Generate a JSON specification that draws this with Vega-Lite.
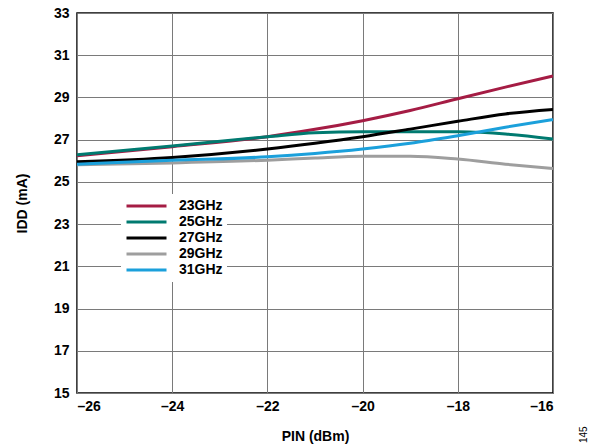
{
  "$schema": "https://vega.github.io/schema/vega-lite/v6.json",
  "width": 476,
  "height": 380,
  "autosize": "none",
  "padding": {"left": 77, "top": 13, "right": 49, "bottom": 55},
  "background": "white",
  "config": {
    "font": "Liberation Sans",
    "view": {"stroke": "black", "strokeWidth": 1.5},
    "axis": {
      "grid": true,
      "gridColor": "#7a7a7a",
      "gridWidth": 1,
      "gridOpacity": 1,
      "domain": false,
      "ticks": false,
      "labelFont": "Liberation Sans",
      "labelFontWeight": "bold",
      "labelFontSize": 14,
      "labelColor": "black",
      "titleFont": "Liberation Sans",
      "titleFontWeight": "bold",
      "titleFontSize": 14,
      "titleColor": "black"
    }
  },
  "title": {
    "text": "145",
    "orient": "right",
    "anchor": "end",
    "angle": 270,
    "align": "left",
    "fontSize": 10,
    "fontWeight": "normal",
    "font": "Liberation Sans",
    "color": "black",
    "offset": 16
  },
  "data": {
    "values": [
      {"p": -26, "i": 26.24, "f": "23GHz"},
      {"p": -24, "i": 26.67, "f": "23GHz"},
      {"p": -22, "i": 27.14, "f": "23GHz"},
      {"p": -21, "i": 27.49, "f": "23GHz"},
      {"p": -20, "i": 27.9, "f": "23GHz"},
      {"p": -19, "i": 28.38, "f": "23GHz"},
      {"p": -18, "i": 28.94, "f": "23GHz"},
      {"p": -17, "i": 29.49, "f": "23GHz"},
      {"p": -16, "i": 30.02, "f": "23GHz"},
      {"p": -26, "i": 26.29, "f": "25GHz"},
      {"p": -24, "i": 26.7, "f": "25GHz"},
      {"p": -22, "i": 27.14, "f": "25GHz"},
      {"p": -21, "i": 27.33, "f": "25GHz"},
      {"p": -20, "i": 27.38, "f": "25GHz"},
      {"p": -19, "i": 27.38, "f": "25GHz"},
      {"p": -18, "i": 27.37, "f": "25GHz"},
      {"p": -17, "i": 27.27, "f": "25GHz"},
      {"p": -16, "i": 27.03, "f": "25GHz"},
      {"p": -26, "i": 25.95, "f": "27GHz"},
      {"p": -24, "i": 26.16, "f": "27GHz"},
      {"p": -22, "i": 26.56, "f": "27GHz"},
      {"p": -21, "i": 26.83, "f": "27GHz"},
      {"p": -20, "i": 27.14, "f": "27GHz"},
      {"p": -19, "i": 27.5, "f": "27GHz"},
      {"p": -18, "i": 27.87, "f": "27GHz"},
      {"p": -17, "i": 28.22, "f": "27GHz"},
      {"p": -16, "i": 28.43, "f": "27GHz"},
      {"p": -26, "i": 25.81, "f": "29GHz"},
      {"p": -24, "i": 25.9, "f": "29GHz"},
      {"p": -22, "i": 26.03, "f": "29GHz"},
      {"p": -21, "i": 26.13, "f": "29GHz"},
      {"p": -20, "i": 26.21, "f": "29GHz"},
      {"p": -19, "i": 26.22, "f": "29GHz"},
      {"p": -18, "i": 26.08, "f": "29GHz"},
      {"p": -17, "i": 25.84, "f": "29GHz"},
      {"p": -16, "i": 25.63, "f": "29GHz"},
      {"p": -26, "i": 25.84, "f": "31GHz"},
      {"p": -24, "i": 26.02, "f": "31GHz"},
      {"p": -22, "i": 26.19, "f": "31GHz"},
      {"p": -21, "i": 26.35, "f": "31GHz"},
      {"p": -20, "i": 26.56, "f": "31GHz"},
      {"p": -19, "i": 26.83, "f": "31GHz"},
      {"p": -18, "i": 27.19, "f": "31GHz"},
      {"p": -17, "i": 27.59, "f": "31GHz"},
      {"p": -16, "i": 27.95, "f": "31GHz"}
    ]
  },
  "mark": {"type": "line", "strokeWidth": 3, "interpolate": "monotone", "clip": true},
  "encoding": {
    "x": {
      "field": "p",
      "type": "quantitative",
      "scale": {"domain": [-26, -16], "nice": false},
      "axis": {
        "values": [-26, -24, -22, -20, -18, -16],
        "title": "PIN (dBm)",
        "titlePadding": 16,
        "labelPadding": 6,
        "labelExpr": "datum.value < 0 ? '\u2013' + abs(datum.value) : '' + datum.value"
      }
    },
    "y": {
      "field": "i",
      "type": "quantitative",
      "scale": {"domain": [15, 33], "nice": false, "zero": false},
      "axis": {
        "values": [15, 17, 19, 21, 23, 25, 27, 29, 31, 33],
        "title": "IDD (mA)",
        "titlePadding": 24,
        "labelPadding": 8
      }
    },
    "color": {
      "field": "f",
      "type": "nominal",
      "scale": {
        "domain": ["23GHz", "25GHz", "27GHz", "29GHz", "31GHz"],
        "range": ["#A51C44", "#007A70", "#000000", "#9E9E9E", "#1BA0DB"]
      },
      "legend": {
        "title": null,
        "orient": "none",
        "legendX": 44,
        "legendY": 181,
        "padding": 4,
        "symbolType": "stroke",
        "symbolStrokeWidth": 3,
        "symbolSize": 1600,
        "clipHeight": 16,
        "labelFont": "Liberation Sans",
        "labelFontWeight": "bold",
        "labelFontSize": 14,
        "labelColor": "black",
        "labelOffset": 11,
        "rowPadding": 0,
        "fillColor": "white"
      }
    }
  }
}
